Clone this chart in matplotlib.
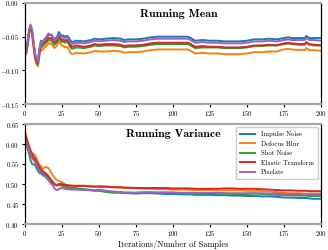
import matplotlib
matplotlib.use('Agg')
import matplotlib.pyplot as plt

plt.rcParams['font.family'] = 'serif'
plt.rcParams['font.serif'] = ['cmr10', 'DejaVu Serif']
plt.rcParams['mathtext.fontset'] = 'cm'
plt.rcParams['axes.formatter.use_mathtext'] = True

ITERS = [0, 1, 2, 3, 4, 5, 6, 7, 8, 9, 10, 11, 12, 13, 14, 15, 16, 17, 18, 19, 20,
         21, 22, 23, 24, 25, 26, 27, 28, 29, 30, 31, 32, 35, 40, 45, 47, 50, 55, 60,
         65, 67, 70, 75, 80, 85, 90, 95, 100, 105, 110, 112, 115, 120, 125, 130, 135,
         140, 145, 150, 155, 160, 165, 170, 175, 178, 180, 185, 189, 190, 192, 195, 200]

LABELS = ['Impulse Noise', 'Defocus Blur', 'Shot Noise', 'Elastic Transform', 'Pixelate']

mean_impulse = [-0.075, -0.072, -0.060, -0.042, -0.034, -0.040, -0.058, -0.075, -0.083, -0.086,
                -0.068, -0.056, -0.058, -0.055, -0.052, -0.050, -0.046, -0.048, -0.047, -0.050,
                -0.054, -0.052, -0.050, -0.043, -0.046, -0.049, -0.048, -0.050, -0.049, -0.049,
                -0.052, -0.056, -0.058, -0.056, -0.057, -0.055, -0.053, -0.054, -0.053, -0.052,
                -0.053, -0.055, -0.054, -0.054, -0.053, -0.051, -0.050, -0.050, -0.050, -0.050,
                -0.050, -0.052, -0.056, -0.055, -0.056, -0.056, -0.057, -0.057, -0.057, -0.056,
                -0.054, -0.054, -0.053, -0.054, -0.052, -0.051, -0.052, -0.052, -0.052, -0.049,
                -0.052, -0.052, -0.052]
mean_defocus = [-0.078, -0.076, -0.064, -0.046, -0.038, -0.046, -0.065, -0.083, -0.091, -0.094,
                -0.079, -0.068, -0.070, -0.067, -0.065, -0.063, -0.059, -0.061, -0.060, -0.063,
                -0.067, -0.065, -0.063, -0.056, -0.060, -0.063, -0.063, -0.066, -0.065, -0.066,
                -0.070, -0.074, -0.076, -0.074, -0.075, -0.073, -0.071, -0.072, -0.072, -0.071,
                -0.072, -0.074, -0.073, -0.073, -0.072, -0.070, -0.069, -0.069, -0.069, -0.069,
                -0.069, -0.071, -0.075, -0.074, -0.075, -0.075, -0.076, -0.076, -0.076, -0.075,
                -0.073, -0.073, -0.072, -0.072, -0.069, -0.068, -0.069, -0.070, -0.070, -0.067,
                -0.070, -0.070, -0.071]
mean_shot = [-0.077, -0.074, -0.062, -0.044, -0.036, -0.044, -0.062, -0.080, -0.088, -0.091,
             -0.075, -0.064, -0.065, -0.062, -0.060, -0.058, -0.054, -0.056, -0.055, -0.058,
             -0.062, -0.060, -0.058, -0.051, -0.055, -0.058, -0.057, -0.059, -0.058, -0.058,
             -0.062, -0.066, -0.068, -0.066, -0.067, -0.065, -0.063, -0.064, -0.063, -0.063,
             -0.064, -0.066, -0.065, -0.065, -0.064, -0.062, -0.061, -0.061, -0.061, -0.061,
             -0.061, -0.063, -0.067, -0.066, -0.066, -0.066, -0.067, -0.067, -0.067, -0.066,
             -0.064, -0.064, -0.063, -0.063, -0.061, -0.060, -0.061, -0.062, -0.062, -0.059,
             -0.062, -0.063, -0.063]
mean_elastic = [-0.076, -0.073, -0.061, -0.043, -0.035, -0.042, -0.060, -0.078, -0.086, -0.089,
                -0.072, -0.061, -0.062, -0.059, -0.057, -0.055, -0.051, -0.053, -0.052, -0.055,
                -0.059, -0.057, -0.055, -0.048, -0.052, -0.055, -0.054, -0.056, -0.055, -0.055,
                -0.059, -0.063, -0.065, -0.063, -0.065, -0.063, -0.061, -0.062, -0.061, -0.061,
                -0.062, -0.064, -0.063, -0.063, -0.062, -0.060, -0.059, -0.059, -0.059, -0.059,
                -0.059, -0.061, -0.065, -0.064, -0.065, -0.065, -0.066, -0.066, -0.066, -0.065,
                -0.063, -0.063, -0.062, -0.063, -0.060, -0.059, -0.060, -0.061, -0.061, -0.058,
                -0.061, -0.062, -0.063]
mean_pixelate = [-0.074, -0.071, -0.058, -0.040, -0.032, -0.039, -0.057, -0.074, -0.083, -0.087,
                 -0.070, -0.058, -0.059, -0.056, -0.053, -0.050, -0.045, -0.047, -0.047, -0.051,
                 -0.056, -0.054, -0.052, -0.046, -0.048, -0.051, -0.050, -0.052, -0.051, -0.051,
                 -0.055, -0.059, -0.061, -0.059, -0.060, -0.058, -0.056, -0.057, -0.056, -0.055,
                 -0.056, -0.058, -0.057, -0.057, -0.056, -0.054, -0.053, -0.053, -0.053, -0.053,
                 -0.053, -0.055, -0.059, -0.058, -0.059, -0.059, -0.060, -0.060, -0.060, -0.059,
                 -0.057, -0.057, -0.056, -0.057, -0.055, -0.054, -0.055, -0.055, -0.055, -0.052,
                 -0.055, -0.055, -0.056]

var_impulse = [0.625, 0.610, 0.600, 0.588, 0.578, 0.570, 0.565, 0.560, 0.552, 0.545,
               0.538, 0.533, 0.530, 0.527, 0.522, 0.520, 0.517, 0.512, 0.508, 0.505,
               0.500, 0.497, 0.496, 0.497, 0.498, 0.498, 0.496, 0.494, 0.492, 0.491,
               0.491, 0.490, 0.490, 0.489, 0.487, 0.485, 0.484, 0.485, 0.483, 0.480,
               0.479, 0.478, 0.477, 0.476, 0.477, 0.477, 0.476, 0.475, 0.475, 0.474,
               0.474, 0.474, 0.473, 0.473, 0.473, 0.472, 0.472, 0.471, 0.471, 0.470,
               0.470, 0.469, 0.469, 0.468, 0.466, 0.466, 0.466, 0.465, 0.465, 0.465,
               0.464, 0.463, 0.463]
var_defocus = [0.635, 0.620, 0.608, 0.595, 0.585, 0.578, 0.575, 0.572, 0.565, 0.555,
               0.548, 0.545, 0.538, 0.540, 0.543, 0.541, 0.540, 0.535, 0.528, 0.522,
               0.517, 0.512, 0.510, 0.508, 0.506, 0.505, 0.502, 0.500, 0.498, 0.497,
               0.496, 0.496, 0.495, 0.496, 0.496, 0.493, 0.493, 0.495, 0.494, 0.492,
               0.491, 0.490, 0.490, 0.489, 0.488, 0.488, 0.487, 0.487, 0.486, 0.486,
               0.486, 0.485, 0.485, 0.485, 0.485, 0.484, 0.484, 0.484, 0.484, 0.483,
               0.483, 0.482, 0.481, 0.480, 0.478, 0.477, 0.477, 0.477, 0.476, 0.476,
               0.476, 0.476, 0.476]
var_shot = [0.615, 0.600, 0.588, 0.575, 0.560, 0.550, 0.549, 0.548, 0.540, 0.533,
            0.527, 0.527, 0.522, 0.520, 0.519, 0.515, 0.512, 0.510, 0.505, 0.503,
            0.500, 0.498, 0.497, 0.499, 0.497, 0.496, 0.494, 0.494, 0.492, 0.492,
            0.491, 0.490, 0.490, 0.488, 0.486, 0.485, 0.483, 0.483, 0.480, 0.478,
            0.478, 0.477, 0.478, 0.478, 0.479, 0.479, 0.478, 0.478, 0.478, 0.477,
            0.477, 0.477, 0.476, 0.476, 0.477, 0.476, 0.476, 0.475, 0.475, 0.475,
            0.476, 0.475, 0.474, 0.473, 0.472, 0.472, 0.472, 0.471, 0.471, 0.471,
            0.470, 0.470, 0.470]
var_elastic = [0.630, 0.617, 0.605, 0.593, 0.582, 0.575, 0.568, 0.563, 0.557, 0.550,
               0.543, 0.537, 0.532, 0.530, 0.527, 0.524, 0.520, 0.515, 0.510, 0.505,
               0.500, 0.498, 0.498, 0.499, 0.500, 0.500, 0.499, 0.498, 0.497, 0.497,
               0.496, 0.496, 0.496, 0.495, 0.495, 0.494, 0.494, 0.493, 0.493, 0.492,
               0.492, 0.491, 0.491, 0.490, 0.490, 0.490, 0.490, 0.490, 0.489, 0.489,
               0.489, 0.489, 0.488, 0.488, 0.488, 0.488, 0.489, 0.489, 0.488, 0.488,
               0.488, 0.487, 0.486, 0.485, 0.484, 0.484, 0.484, 0.483, 0.483, 0.483,
               0.482, 0.482, 0.482]
var_pixelate = [0.620, 0.605, 0.595, 0.583, 0.573, 0.565, 0.560, 0.555, 0.548, 0.540,
                0.533, 0.528, 0.525, 0.522, 0.518, 0.514, 0.510, 0.505, 0.500, 0.497,
                0.490, 0.486, 0.485, 0.487, 0.489, 0.490, 0.489, 0.488, 0.488, 0.487,
                0.487, 0.486, 0.486, 0.486, 0.485, 0.484, 0.483, 0.484, 0.482, 0.481,
                0.480, 0.479, 0.479, 0.478, 0.479, 0.479, 0.479, 0.479, 0.479, 0.478,
                0.478, 0.478, 0.478, 0.478, 0.478, 0.478, 0.477, 0.477, 0.477, 0.477,
                0.477, 0.477, 0.476, 0.476, 0.475, 0.475, 0.475, 0.475, 0.474, 0.474,
                0.474, 0.474, 0.474]

MEANS = [mean_impulse, mean_defocus, mean_shot, mean_elastic, mean_pixelate]
VARS = [var_impulse, var_defocus, var_shot, var_elastic, var_pixelate]
COLORS = ['#1f77b4', '#ff7f0e', '#2ca02c', '#d62728', '#9467bd']


def fmt_tick(x, pos):
    _ = pos
    return r'$%.2f$' % x


def style_axis(ax, ylim, yticks):
    ax.set_xlim(0, 200)
    ax.set_ylim(*ylim)
    ax.set_xticks([0, 25, 50, 75, 100, 125, 150, 175, 200])
    ax.set_yticks(yticks)
    ax.yaxis.set_major_formatter(plt.FuncFormatter(fmt_tick))
    ax.tick_params(labelsize=5, length=2.5, width=0.8, pad=1.2)
    for side in ['top', 'bottom']:
        ax.spines[side].set_color('#a6a6a6')
        ax.spines[side].set_linewidth(1.6)
    for side in ['left', 'right']:
        ax.spines[side].set_color('black')
        ax.spines[side].set_linewidth(0.9)


fig = plt.figure(figsize=(3.28, 2.5), dpi=100)
ax1 = fig.add_axes([0.075, 0.584, 0.904, 0.404])
ax2 = fig.add_axes([0.075, 0.104, 0.904, 0.400])

for vals, color, label in zip(MEANS, COLORS, LABELS):
    ax1.plot(ITERS, vals, color=color, lw=1.4, label=label)
for vals, color, label in zip(VARS, COLORS, LABELS):
    ax2.plot(ITERS, vals, color=color, lw=1.4, label=label)

style_axis(ax1, (-0.15, 0.0), [-0.15, -0.10, -0.05, 0.00])
style_axis(ax2, (0.40, 0.65), [0.40, 0.45, 0.50, 0.55, 0.60, 0.65])

ax1.text(0.52, 0.89, 'Running Mean', transform=ax1.transAxes, ha='center', va='center',
         fontsize=8.5, family='cmb10')
ax2.text(0.50, 0.90, 'Running Variance', transform=ax2.transAxes, ha='center', va='center',
         fontsize=8.5, family='cmb10')

ax2.set_xlabel('Iterations/Number of Samples', fontsize=6, labelpad=1.5)
ax2.legend(loc='upper right', fontsize=4.8, handlelength=2.3, borderpad=0.6,
           labelspacing=0.55, handletextpad=0.8, framealpha=1, edgecolor='#cccccc')

fig.savefig('out.png', dpi=100)
